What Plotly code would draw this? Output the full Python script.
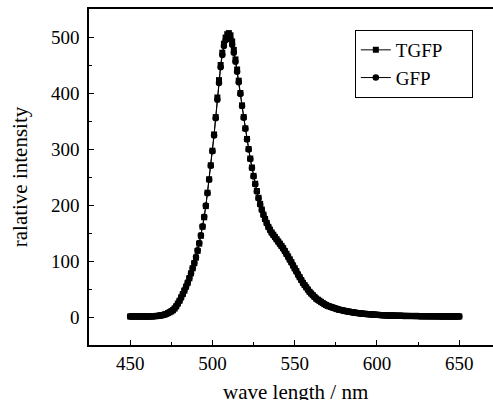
"""Emission spectra of TGFP vs GFP: relative intensity against wavelength."""
import plotly.graph_objects as go

# Wavelength grid, 1 nm steps from 450 to 650 nm
WAVELENGTH = list(range(450, 651))

TGFP = [
    # 450-469
    1, 1, 1, 1, 1, 1, 1, 1, 1, 1, 1, 1, 1, 1, 1.5, 1.5, 2, 2, 2.5, 3,
    # 470-489
    3.5, 4.5, 5.5, 7, 8.5, 10, 12, 15, 19, 24, 29, 35, 41, 47, 54, 61, 69, 78, 87, 96,
    # 490-509
    106, 118, 131, 145, 161, 178, 198, 222, 246, 271, 297, 326, 357, 392, 423, 450, 472, 488, 499, 505,
    # 510-529
    507, 503, 492, 477, 460, 442, 422, 400, 378, 357, 337, 318, 300, 283, 267, 252, 238, 225, 213, 202,
    # 530-549
    192, 183, 175, 168, 161, 156, 151, 147, 143, 139, 135, 131, 127, 123, 118, 113, 108, 103, 98, 92,
    # 550-569
    87, 82, 76, 71, 66, 61, 57, 53, 49, 45, 42, 39, 36, 33, 31, 29, 27, 25, 23, 21.5,
    # 570-589
    20, 19, 18, 17, 16, 15, 14, 13, 12.5, 12, 11, 10.5, 10, 9.5, 9, 8.5, 8, 7.5, 7, 6.8,
    # 590-609
    6.5, 6, 5.8, 5.5, 5.2, 5, 4.7, 4.5, 4.3, 4, 3.8, 3.6, 3.5, 3.3, 3.2, 3, 2.9, 2.8, 2.7, 2.6,
    # 610-629
    2.5, 2.4, 2.3, 2.2, 2.2, 2.1, 2, 2, 1.9, 1.9, 1.8, 1.8, 1.7, 1.7, 1.6, 1.6, 1.5, 1.5, 1.5, 1.4,
    # 630-650
    1.4, 1.4, 1.3, 1.3, 1.3, 1.2, 1.2, 1.2, 1.2, 1.1, 1.1, 1.1, 1.1, 1, 1, 1, 1, 1, 1, 1, 1,
]

GFP = [
    # 450-469
    1, 1, 1, 1, 1, 1, 1, 1, 1, 1, 1, 1, 1, 1.5, 1.5, 1.5, 2, 2, 2.5, 3,
    # 470-489
    3.5, 4.5, 5.5, 7, 8.5, 10.5, 12.5, 15.5, 19.5, 24, 29, 35, 41, 48, 55, 62, 70, 78, 87, 97,
    # 490-509
    107, 119, 132, 146, 162, 179, 199, 221, 245, 270, 296, 324, 355, 388, 418, 446, 468, 484, 494, 499,
    # 510-529
    500, 496, 486, 472, 456, 438, 419, 398, 377, 356, 336, 317, 299, 282, 266, 251, 237, 224, 212, 201,
    # 530-549
    191, 182, 174, 167, 161, 155, 150, 146, 142, 138, 134, 130, 126, 122, 117, 112, 107, 102, 97, 92,
    # 550-569
    86, 81, 76, 71, 66, 61, 57, 53, 49, 45, 42, 39, 36, 33, 31, 29, 27, 25, 23, 21.5,
    # 570-589
    20, 19, 18, 17, 16, 15, 14, 13, 12.5, 12, 11, 10.5, 10, 9.5, 9, 8.5, 8, 7.5, 7, 6.8,
    # 590-609
    6.5, 6, 5.8, 5.5, 5.2, 5, 4.7, 4.5, 4.3, 4, 3.8, 3.6, 3.5, 3.3, 3.2, 3, 2.9, 2.8, 2.7, 2.6,
    # 610-629
    2.5, 2.4, 2.3, 2.2, 2.2, 2.1, 2, 2, 1.9, 1.9, 1.8, 1.8, 1.7, 1.7, 1.6, 1.6, 1.5, 1.5, 1.5, 1.4,
    # 630-650
    1.4, 1.4, 1.3, 1.3, 1.3, 1.2, 1.2, 1.2, 1.2, 1.1, 1.1, 1.1, 1.1, 1, 1, 1, 1, 1, 1, 1, 1,
]

X_TICKS = [450, 500, 550, 600, 650]
Y_TICKS = [0, 100, 200, 300, 400, 500]

FONT = "Liberation Serif, Times New Roman, serif"
PAD = "\u00a0" * 5  # widen the legend box to the right, as in the original

fig = go.Figure()
fig.add_trace(go.Scatter(
    x=WAVELENGTH, y=TGFP, name="TGFP" + PAD, mode="lines+markers",
    line=dict(color="black", width=1),
    marker=dict(symbol="square", size=6, color="black"),
))
fig.add_trace(go.Scatter(
    x=WAVELENGTH, y=GFP, name="GFP" + PAD, mode="lines+markers",
    line=dict(color="black", width=1),
    marker=dict(symbol="circle", size=6.5, color="black"),
))

fig.update_xaxes(
    range=[425, 670.5],
    tickvals=X_TICKS,
    ticks="inside", ticklen=5, tickwidth=1.2, tickcolor="black",
    minor=dict(dtick=25, tick0=425, ticks="inside", ticklen=3, tickcolor="black"),
    showline=True, linecolor="black", linewidth=1.5, mirror=True,
    showgrid=False, zeroline=False,
    tickfont=dict(family=FONT, size=19, color="black"),
)
fig.update_yaxes(
    range=[-50, 550],
    tickvals=Y_TICKS,
    ticks="inside", ticklen=5, tickwidth=1.2, tickcolor="black",
    minor=dict(dtick=50, tick0=-50, ticks="inside", ticklen=3, tickcolor="black"),
    showline=True, linecolor="black", linewidth=1.5,
    showgrid=False, zeroline=False,
    tickfont=dict(family=FONT, size=19, color="black"),
    ticklabelstandoff=4,
    title=dict(text="ralative intensity", font=dict(family=FONT, size=21, color="black"),
               standoff=18),
)
# x title as an annotation: the original sits lower than the margin allows
# (it is cut off by the bottom edge of the picture)
fig.add_annotation(
    text="wave length / nm", xref="paper", yref="paper", x=0.51, y=0,
    xanchor="center", yanchor="middle", yshift=-47, showarrow=False,
    font=dict(family=FONT, size=21, color="black"),
)
fig.update_layout(
    width=493, height=400,
    margin=dict(l=89, r=0, t=9, b=55, autoexpand=False),
    plot_bgcolor="white", paper_bgcolor="white",
    showlegend=True,
    legend=dict(
        x=0.658, y=0.9375, xanchor="left", yanchor="top",
        bordercolor="black", borderwidth=1, bgcolor="white",
        font=dict(family=FONT, size=19, color="black"),
        tracegroupgap=0, itemwidth=30,
    ),
)

# drop the default 8px page margin so the figure sits at the window's corner
fig.write_html("out.html", config={"displayModeBar": False},
               post_script="document.body.style.margin = '0';")
